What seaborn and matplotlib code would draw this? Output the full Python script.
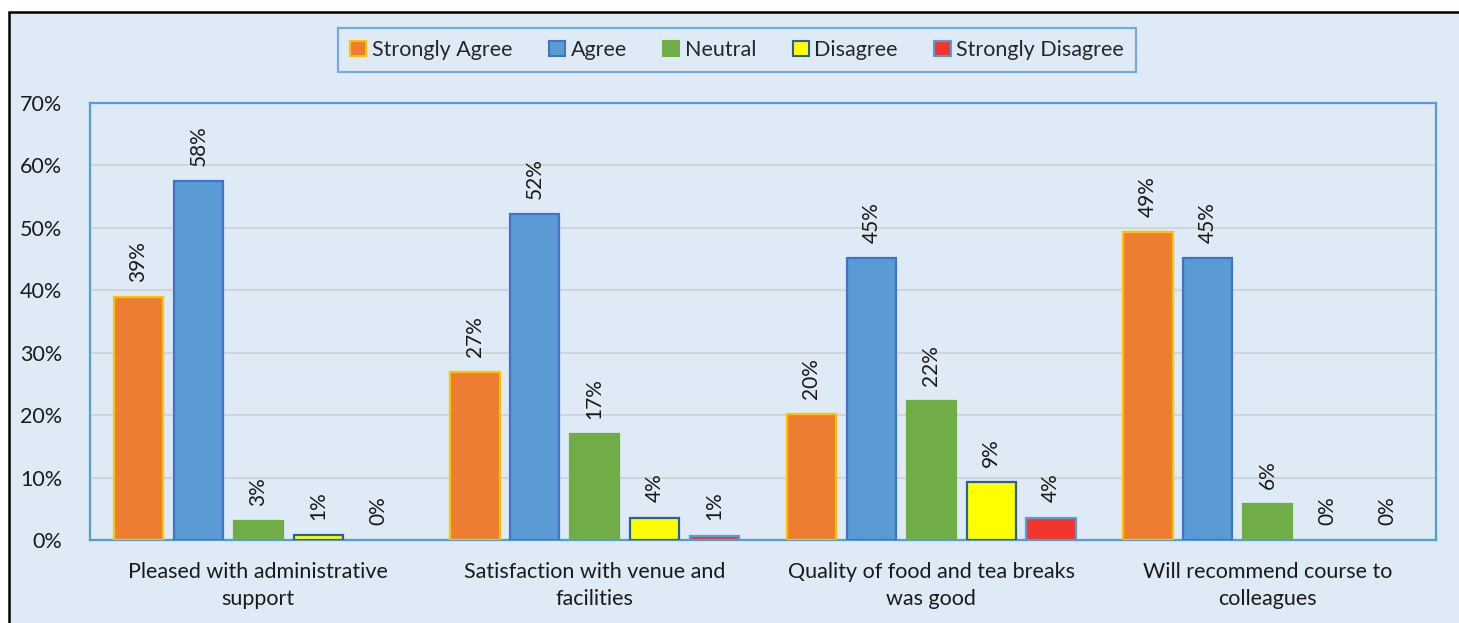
import matplotlib
matplotlib.use("Agg")
import matplotlib.pyplot as plt
from matplotlib.patches import Rectangle
import seaborn as sns
import pandas as pd

categories = ["Pleased with administrative\nsupport",
              "Satisfaction with venue and\nfacilities",
              "Quality of food and tea breaks\nwas good",
              "Will recommend course to\ncolleagues"]
responses = ["Strongly Agree", "Agree", "Neutral", "Disagree", "Strongly Disagree"]
strongly_agree = [38.9, 26.9, 20.2, 49.3]
agree = [57.5, 52.2, 45.1, 45.1]
neutral = [3.0, 17.0, 22.2, 5.8]
disagree = [0.8, 3.6, 9.3, 0.0]
strongly_disagree = [0.0, 0.7, 3.6, 0.0]
y_ticks = [0, 10, 20, 30, 40, 50, 60, 70]

fills = ["#ED7D31", "#5B9BD5", "#70AD47", "#FFFF00", "#F3352B"]
edges = ["#FFC000", "#4472C4", "#70AD47", "#2E5E96", "#5B9BD5"]
bg = "#DEEAF6"

series = [strongly_agree, agree, neutral, disagree, strongly_disagree]
rows = []
for r, vals in zip(responses, series):
    for c, v in zip(categories, vals):
        rows.append({"Category": c, "Response": r, "Value": v})
df = pd.DataFrame(rows)

sns.set_theme(style="white")
plt.rcParams["font.family"] = ["Lato", "DejaVu Sans"]

fig = plt.figure(figsize=(14.59, 6.23), dpi=100)
fig.patch.set_facecolor("white")
# outer frame (light blue background with black top/left border)
frame = Rectangle((9 / 1459, -0.05), 1.1, 1 - 12 / 623 + 0.05,
                  transform=fig.transFigure, facecolor=bg,
                  edgecolor="black", linewidth=1.8, zorder=-10)
fig.add_artist(frame)

ax = fig.add_axes([90 / 1459, 1 - 540 / 623, (1436 - 90) / 1459, (540 - 103) / 623])
ax.set_zorder(1)
ax.set_facecolor(bg)

sns.barplot(data=df, x="Category", y="Value", hue="Response", order=categories,
            hue_order=responses, palette=fills, saturation=1, width=0.89, gap=0.18,
            ax=ax, legend=False, zorder=3)

# edge colors per series
for cont, ec in zip(ax.containers, edges):
    for bar in cont:
        bar.set_edgecolor(ec)
        bar.set_linewidth(1.6 if bar.get_height() > 0 else 0)

for cont in ax.containers:
    for bar in cont:
        h = bar.get_height()
        ax.annotate(f"{h:.0f}%", (bar.get_x() + bar.get_width() / 2, h),
                    xytext=(0, 11), textcoords="offset points",
                    rotation=90, ha="center", va="bottom", fontsize=15,
                    color="#1a1a1a")

ax.set_ylim(0, 70)
ax.set_xlim(-0.5, 3.5)
ax.set_yticks(y_ticks)
ax.set_yticklabels([f"{t}%" for t in y_ticks])
ax.yaxis.grid(True, color="#D4D4D4", linewidth=1.5, zorder=0)
ax.set_axisbelow(True)
ax.tick_params(axis="both", length=0, labelsize=15.5, colors="#1a1a1a")
ax.tick_params(axis="y", pad=20)
ax.tick_params(axis="x", pad=16)
for lbl in ax.get_xticklabels():
    lbl.set_linespacing(1.45)
ax.set_xlabel("")
ax.set_ylabel("")
for s in ax.spines.values():
    s.set_color("#5B9BD5")
    s.set_linewidth(1.6)

handles = [Rectangle((0, 0), 1, 1, facecolor=f, edgecolor=e, linewidth=1.5)
           for f, e in zip(fills, edges)]
leg = fig.legend(handles, responses, loc="center", bbox_to_anchor=(737 / 1459, 1 - 50 / 623),
                 ncol=5, frameon=True, fontsize=15.5, handlelength=0.75, handleheight=0.75,
                 handletextpad=0.25, columnspacing=1.7, borderpad=0.55,
                 fancybox=False, facecolor=bg)
leg.get_frame().set_edgecolor("#5B9BD5")
leg.get_frame().set_linewidth(1.6)

fig.savefig("out.png", dpi=100, facecolor=fig.get_facecolor())
